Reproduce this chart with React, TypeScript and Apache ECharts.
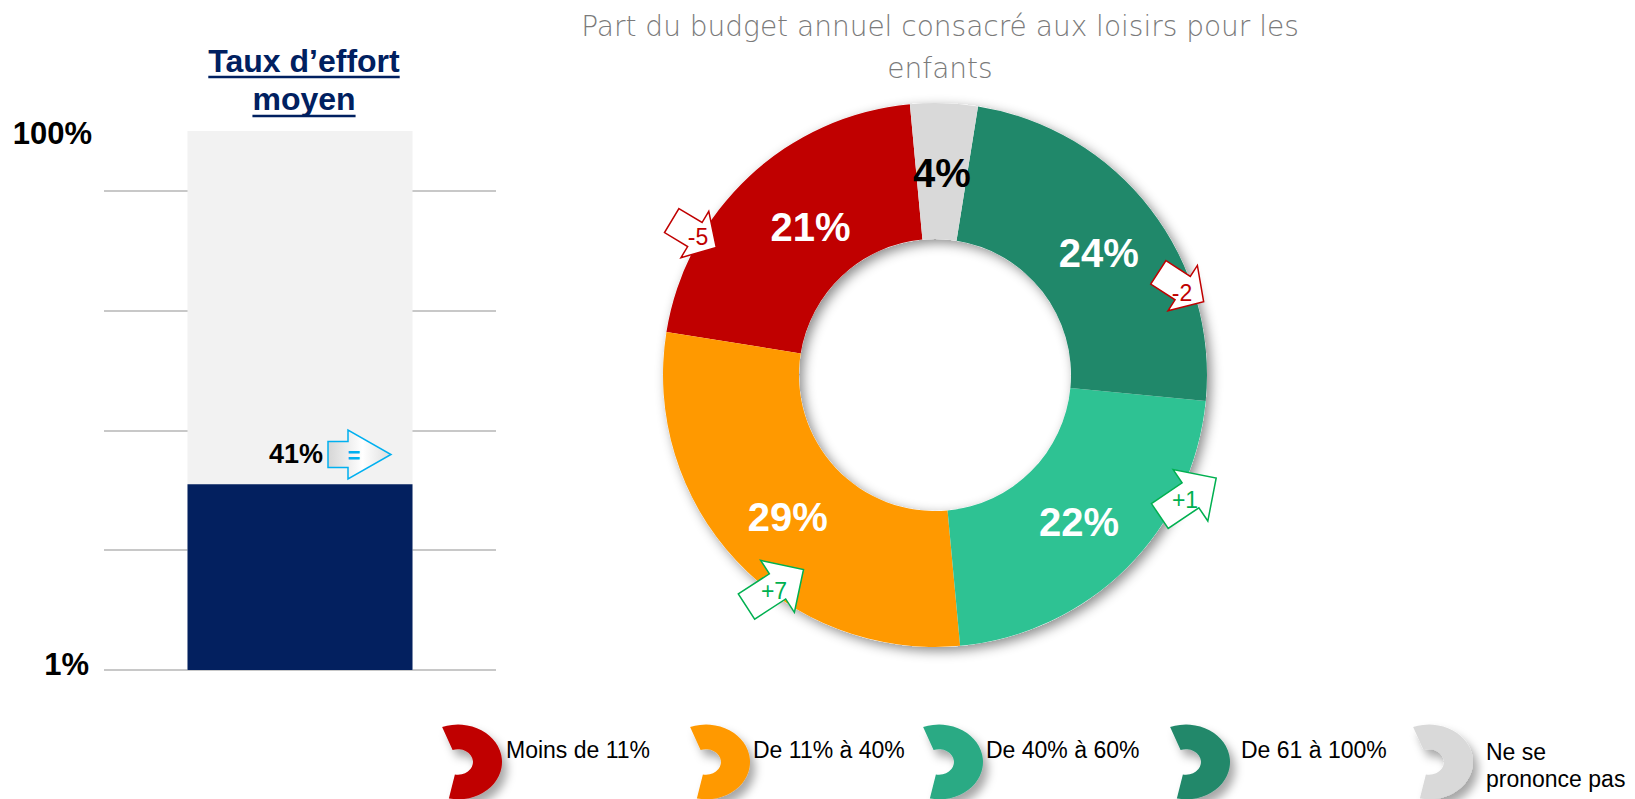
import React, { useEffect, useRef } from 'react';
import * as echarts from 'echarts';

// ---------- data ----------
const categories = ['Moins de 11%', 'De 11% à 40%', 'De 40% à 60%', 'De 61 à 100%', 'Ne se prononce pas'];
const legendLabels = ['Moins de 11%', 'De 11% à 40%', 'De 40% à 60%', 'De 61 à 100%', 'Ne se\nprononce pas'];
const shares = [21, 29, 22, 24, 4];
const evolutions = ['-5', '+7', '+1', '-2', ''];
const chartTitle = 'Part du budget annuel consacré aux loisirs pour les\nenfants';

const effortTitleLines = ['Taux d’effort', 'moyen'];
const effortCategories = ['Taux d’effort moyen'];
const effortValues = [41];
const effortScale = [100];
const effortEvolution = ['='];
const axisEndLabels = ['1%', '100%'];
const gridValues = [10, 30, 50, 70, 90];

// ---------- styles / layout ----------
const FONT = "'Liberation Sans', Arial, sans-serif";
const sliceColors = ['#C00000', '#FF9900', '#2EC293', '#20886A', '#D9D9D9'];
const legendColors = ['#C00000', '#FF9900', '#2AAA84', '#21886A', '#D9D9D9'];
const labelOffsets = [[17, 3], [4, 1], [-2, 0], [0, 5], [0, 5]];
const PIE_CENTER = [935, 375];
const PIE_R = [136, 272];
const evoLayout = [
  { cx: 694, cy: 234, rot: 31, L: 52, h: 25, H: 27, s: 14, tx: 698, ty: 237 },
  { cx: 775, cy: 588, rot: -33, L: 68, h: 31, H: 31, s: 15, tx: 774, ty: 591 },
  { cx: 1188, cy: 497, rot: -34, L: 68, h: 31, H: 31, s: 15, tx: 1185, ty: 500 },
  { cx: 1181, cy: 287, rot: 33, L: 54, h: 25, H: 27, s: 14, tx: 1182, ty: 293 },
];
const legendTextX = [506, 753, 986, 1241, 1486];
const legendIconX = [458, 706, 939, 1186, 1429];

function arrowPoly(cx: number, cy: number, deg: number, L: number, h: number, H: number, s: number) {
  const a = (deg * Math.PI) / 180;
  const c = Math.cos(a);
  const sn = Math.sin(a);
  const pts = [
    [-L / 2, -s], [L / 2 - h, -s], [L / 2 - h, -H], [L / 2, 0],
    [L / 2 - h, H], [L / 2 - h, s], [-L / 2, s],
  ];
  return pts.map(([x, y]) => [cx + x * c - y * sn, cy + x * sn + y * c]);
}

function measure(text: string, font: string) {
  const cv = document.createElement('canvas');
  const ctx = cv.getContext('2d');
  if (!ctx) return text.length * 16;
  ctx.font = font;
  return ctx.measureText(text).width;
}

export default function App() {
  const ref = useRef<HTMLDivElement>(null);

  useEffect(() => {
    if (!ref.current) return;
    const chart = echarts.init(ref.current, undefined, { renderer: 'svg' });

    const graphics: any[] = [];

    // chart title (right)
    graphics.push({
      type: 'text', x: 940, y: 47,
      style: {
        text: chartTitle, fill: '#7A7A7A', fontSize: 28, fontFamily: "'DejaVu Sans', sans-serif",
        fontWeight: 200, align: 'center', verticalAlign: 'middle', lineHeight: 42,
      },
    });

    // left title, underlined
    const tFont = `bold 32px ${FONT}`;
    const tCenters = [60.5, 98.5];
    const uY = [77, 116];
    effortTitleLines.forEach((line, i) => {
      graphics.push({
        type: 'text', x: 304, y: tCenters[i],
        style: { text: line, fill: '#002060', fontSize: 32, fontWeight: 'bold', fontFamily: FONT, align: 'center', verticalAlign: 'middle' },
      });
      const w = measure(line, tFont);
      graphics.push({
        type: 'line',
        shape: { x1: 304 - w / 2, y1: uY[i], x2: 304 + w / 2, y2: uY[i] },
        style: { stroke: '#002060', lineWidth: 2.5 },
      });
    });

    // axis end labels
    graphics.push({
      type: 'text', x: 89, y: 664,
      style: { text: axisEndLabels[0], fill: '#000', fontSize: 31, fontWeight: 'bold', fontFamily: FONT, align: 'right', verticalAlign: 'middle' },
    });
    graphics.push({
      type: 'text', x: 92, y: 133,
      style: { text: axisEndLabels[1], fill: '#000', fontSize: 31, fontWeight: 'bold', fontFamily: FONT, align: 'right', verticalAlign: 'middle' },
    });

    // "=" arrow for effort
    graphics.push({
      type: 'polygon', z: 20,
      shape: { points: arrowPoly(359.5, 454.5, 0, 63, 43, 24.5, 13) },
      style: {
        fill: new echarts.graphic.LinearGradient(0, 0, 1, 0, [
          { offset: 0, color: '#D6D6D6' }, { offset: 0.55, color: '#FFFFFF' }, { offset: 1, color: '#DCDCDC' },
        ]),
        stroke: '#00B0F0', lineWidth: 1.5,
      },
    });
    graphics.push({
      type: 'text', x: 354, y: 455, z: 21,
      style: { text: effortEvolution[0], fill: '#00B0F0', fontSize: 22, fontWeight: 'bold', fontFamily: FONT, align: 'center', verticalAlign: 'middle' },
    });

    // evolution arrows around donut
    evolutions.forEach((ev, i) => {
      if (!ev) return;
      const l = evoLayout[i];
      const col = ev.startsWith('-') ? '#C00000' : '#00B050';
      graphics.push({
        type: 'polygon', z: 20,
        shape: { points: arrowPoly(l.cx, l.cy, l.rot, l.L, l.h, l.H, l.s) },
        style: { fill: '#FFFFFF', stroke: col, lineWidth: 1.5 },
      });
      graphics.push({
        type: 'text', x: l.tx, y: l.ty, z: 21,
        style: { text: ev, fill: col, fontSize: 23, fontFamily: FONT, align: 'center', verticalAlign: 'middle' },
      });
    });

    // legend
    legendLabels.forEach((lab, i) => {
      graphics.push({
        type: 'sector', x: legendIconX[i], y: 762, scaleY: 0.85,
        shape: { cx: 0, cy: 0, r: 44, r0: 15, startAngle: -1.94, endAngle: 1.78, clockwise: true },
        style: {
          fill: legendColors[i], shadowBlur: 10, shadowColor: 'rgba(0,0,0,0.35)', shadowOffsetX: 5, shadowOffsetY: 7,
        },
      });
      const multi = lab.includes('\n');
      graphics.push({
        type: 'text', x: legendTextX[i], y: multi ? 765 : 750,
        style: {
          text: lab, fill: '#000', fontSize: 23, fontFamily: FONT, align: 'left', verticalAlign: 'middle', lineHeight: 27,
        },
      });
    });

    const total = shares.reduce((a, b) => a + b, 0);

    chart.setOption({
      animation: false,
      textStyle: { fontFamily: FONT },
      grid: { left: 104, width: 392, top: 131, height: 539 },
      xAxis: { type: 'category', data: effortCategories, show: false },
      yAxis: { type: 'value', min: 10, max: 100, show: false },
      series: [
        {
          type: 'bar', data: effortScale, barWidth: 225, barGap: '-100%', z: 3, silent: true,
          itemStyle: { color: '#F2F2F2' },
          markLine: {
            silent: true, symbol: 'none', z: 1, label: { show: false },
            lineStyle: { color: '#C8C8C8', width: 2, type: 'solid' },
            data: gridValues.map((v) => ({ yAxis: v })),
          },
        },
        {
          type: 'bar', data: effortValues, barWidth: 225, barGap: '-100%', z: 4, silent: true,
          itemStyle: { color: '#03205F' },
          label: {
            show: true, position: 'top', distance: 17, offset: [-4, 0], formatter: '{c}%',
            fontSize: 27, fontWeight: 'bold', color: '#000', fontFamily: FONT,
          },
        },
        {
          type: 'pie', center: PIE_CENTER, radius: PIE_R, silent: true, z: 1,
          data: [{ name: 'ombre', value: total }],
          itemStyle: { color: '#FFFFFF', shadowBlur: 12, shadowColor: 'rgba(0,0,0,0.45)', shadowOffsetX: 4, shadowOffsetY: 4 },
          label: { show: false }, labelLine: { show: false }, emphasis: { disabled: true },
        },
        {
          type: 'pie', center: PIE_CENTER, radius: PIE_R, startAngle: 95.3, clockwise: false,
          silent: true, z: 2, avoidLabelOverlap: false,
          data: categories.map((n, i) => ({
            name: n, value: shares[i], itemStyle: { color: sliceColors[i] },
            label: { offset: labelOffsets[i], ...(i === 4 ? { color: '#000' } : {}) },
          })),
          label: {
            show: true, position: 'inside', formatter: '{c}%', fontSize: 40, fontWeight: 'bold',
            color: '#FFFFFF', fontFamily: FONT,
          },
          labelLine: { show: false },
          emphasis: { disabled: true },
        },
      ],
      graphic: graphics,
    });

    return () => chart.dispose();
  }, []);

  return (
    <div
      ref={ref}
      style={{ position: 'fixed', left: 0, top: 0, width: 1635, height: 799, background: '#fff' }}
    />
  );
}
